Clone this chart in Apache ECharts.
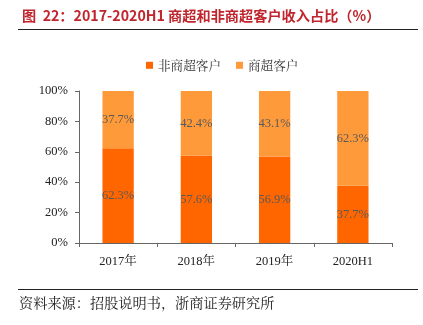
<!DOCTYPE html>
<html><head><meta charset="utf-8">
<script src="https://cdn.jsdelivr.net/npm/echarts@6/dist/echarts.min.js"></script>
<style>html,body{margin:0;padding:0;background:#fff}#c{width:423px;height:325px}</style>
</head><body><div id="c"></div>
<script>
var categories = ['2017年', '2018年', '2019年', '2020H1'];
var nonSupermarket = [62.3, 57.6, 56.9, 37.7];
var supermarket = [37.7, 42.4, 43.1, 62.3];
var yTicks = [0, 20, 40, 60, 80, 100];

var chart = echarts.init(document.getElementById('c'));
var serif = '"Times New Roman","Liberation Serif","Noto Serif CJK SC",serif';
var lbl = {show: true, position: 'inside', color: '#595959', fontFamily: serif, fontSize: 12.5,
  formatter: function (p) { return p.value.toFixed(1) + '%'; }};
chart.setOption({
  animation: false,
  title: {text: '图  22：2017-2020H1 商超和非商超客户收入占比（%）', left: 17, top: 4,
    textStyle: {color: '#C0262D', fontSize: 14.2, fontWeight: 'bold', fontFamily: '"Noto Sans CJK SC",sans-serif'}},
  legend: {top: 54, left: 141, itemWidth: 7, itemHeight: 7, itemGap: 15, icon: 'rect',
    textStyle: {fontSize: 12.6, color: '#333', fontFamily: '"Noto Serif CJK SC","Noto Sans CJK SC",serif'},
    data: ['非商超客户', '商超客户']},
  grid: {left: 79, right: 31, top: 91, bottom: 82},
  xAxis: {type: 'category', data: categories,
    axisLine: {lineStyle: {color: '#666'}}, axisTick: {show: true, length: 4, lineStyle: {color: '#666'}},
    axisLabel: {color: '#222', fontSize: 12.5, fontFamily: serif, margin: 12}},
  yAxis: {type: 'value', min: 0, max: 100, interval: 20,
    axisLine: {show: true, lineStyle: {color: '#666'}},
    axisTick: {show: true, length: 4, lineStyle: {color: '#666'}},
    splitLine: {show: false},
    axisLabel: {color: '#222', fontSize: 12.5, fontFamily: serif, margin: 11,
      formatter: function (v) { return yTicks.indexOf(v) >= 0 ? v + '%' : ''; }}},
  series: [
    {name: '非商超客户', type: 'bar', stack: 's', data: nonSupermarket, barWidth: '40%',
      itemStyle: {color: '#FF6600'}, label: lbl},
    {name: '商超客户', type: 'bar', stack: 's', data: supermarket, barWidth: '40%',
      itemStyle: {color: '#FF9A3A'}, label: lbl}
  ],
  graphic: [
    {type: 'line', shape: {x1: 18, y1: 29.5, x2: 418, y2: 29.5}, style: {stroke: '#222', lineWidth: 1.2}},
    {type: 'line', shape: {x1: 18, y1: 289.5, x2: 418, y2: 289.5}, style: {stroke: '#222', lineWidth: 1.2}},
    {type: 'text', left: 19, top: 296, style: {text: '资料来源：招股说明书，浙商证券研究所', fontSize: 14.2,
      fill: '#222', fontFamily: '"Noto Serif CJK SC","Noto Sans CJK SC",serif'}}
  ]
});
</script></body></html>
